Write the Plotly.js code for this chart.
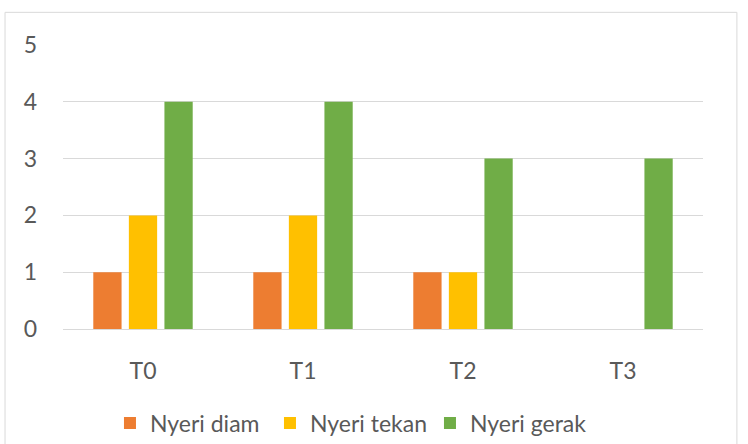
<!DOCTYPE html>
<html><head><meta charset="utf-8">
<script src="https://cdn.plot.ly/plotly-3.0.1.min.js"></script>
<style>html,body{margin:0;padding:0;background:#fff}#chart{width:748px;height:444px}</style>
</head><body><div id="chart"></div>
<script>
const categories = ["T0", "T1", "T2", "T3"];
const seriesNames = ["Nyeri diam", "Nyeri tekan", "Nyeri gerak"];
const nyeriDiam = [1, 1, 1, 0];
const nyeriTekan = [2, 2, 1, 0];
const nyeriGerak = [4, 4, 3, 3];
const yTicks = [0, 1, 2, 3, 4, 5];
const colors = ["#ED7D31", "#FFC000", "#70AD47"];

const values = [nyeriDiam, nyeriTekan, nyeriGerak];
const traces = values.map((v, i) => ({
  type: "bar", x: categories, y: v, name: seriesNames[i],
  marker: {color: colors[i]}, hoverinfo: "skip"
}));

const font = {family: "Lato, 'Open Sans', sans-serif", size: 23, color: "#595959"};
const layout = {
  width: 748, height: 444,
  margin: {l: 63, r: 45, t: 45, b: 115, autoexpand: false},
  paper_bgcolor: "#fff", plot_bgcolor: "#fff",
  font: font,
  barmode: "group", bargap: 0.333, bargroupgap: 0.205,
  showlegend: true,
  legend: {orientation: "h", x: 0.0734, xanchor: "left", y: -0.331, yanchor: "middle",
           font: font, traceorder: "normal", entrywidth: 115, entrywidthmode: "pixels"},
  xaxis: {type: "category", showgrid: false, zeroline: false, showline: true,
          linecolor: "#D9D9D9", linewidth: 1, ticks: "", ticklabelstandoff: 21, fixedrange: true},
  yaxis: {range: [0, 5], tickvals: yTicks, ticktext: yTicks.map(String), showgrid: true,
          gridcolor: "#D9D9D9", gridwidth: 1, zeroline: false, showline: false,
          ticks: "", ticklabelstandoff: 25, fixedrange: true},
  shapes: [{type: "rect", xref: "paper", yref: "paper", x0: -0.0906, x1: 1.053,
            y0: -0.41, y1: 1.115, line: {color: "#D9D9D9", width: 1}, layer: "below"}]
};
Plotly.newPlot("chart", traces, layout, {staticPlot: true, displayModeBar: false});
</script></body></html>
